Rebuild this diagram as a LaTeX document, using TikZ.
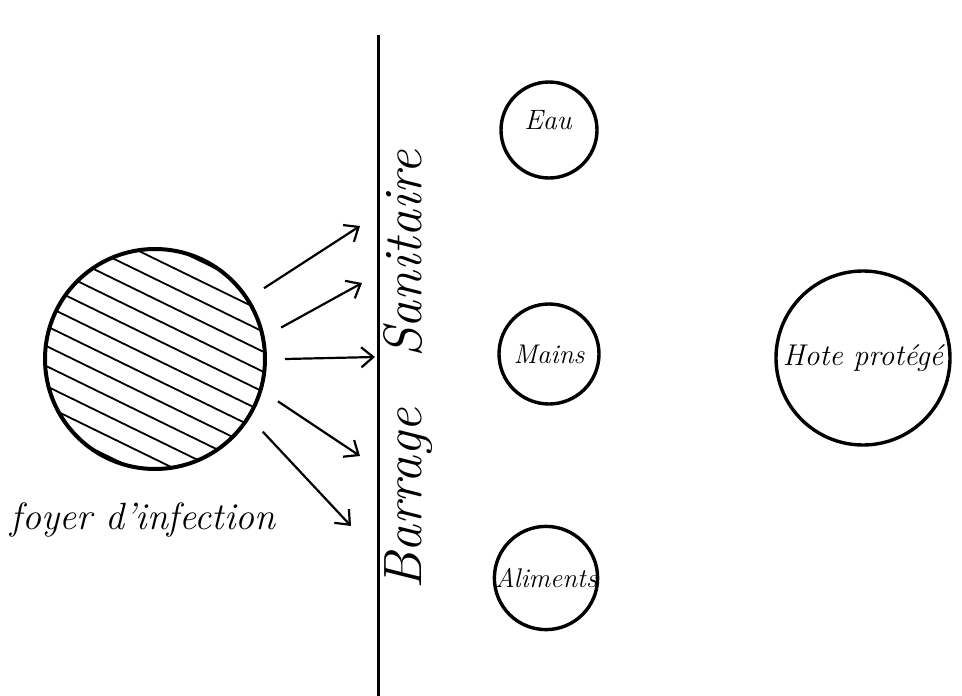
\documentclass[tikz,border=0pt]{standalone}
\usepackage{fontspec}
\usepackage{tikz}
\usetikzlibrary{arrows.meta, calc}

\begin{document}
\begin{tikzpicture}[x=1pt, y=-1pt,
  rond/.style={circle, draw, line width=3.4pt, inner sep=0pt, font=\fontsize{27}{32}\selectfont\itshape},
  fleche/.style={line width=2.2pt, -{Straight Barb[length=12pt, width=20pt]}}]
  \useasboundingbox (0,0) rectangle (962,696);

  \coordinate (F) at (155, 359);
  \coordinate (H) at (378, 35);
  \coordinate (B) at (378, 696);
  \coordinate (T1) at (360, 226);
  \coordinate (T2) at (362, 283);
  \coordinate (T3) at (375, 357);
  \coordinate (T4) at (360, 456);
  \coordinate (T5) at (351, 526);

  \begin{scope}
    \clip (F) circle (110);
    \foreach \y in {-108,-90,...,108} {
      \draw[line width=1.8pt, shift={(F)}, rotate=-26] (-130,\y) -- (130,\y);
    }
  \end{scope}
  \node[circle, draw, line width=4pt, minimum size=220pt, outer sep=20pt] (foyer) at (F) {};
  \node[font=\fontsize{38}{44}\selectfont\itshape] (nomfoyer) at (143, 520) {foyer d'infection};

  \draw[fleche] (foyer.33) -- (T1);
  \draw[fleche] (foyer.14) -- (T2);
  \draw[fleche] (foyer.0) -- (T3);
  \draw[fleche] (foyer.-19) -- (T4);
  \draw[fleche] (foyer.-34) -- (T5);

  \draw[line width=3pt] (H) -- (B);
  \node[rotate=90, font=\fontsize{54}{60}\selectfont\itshape] (barrage) at (408, 370) {Barrage\hspace{50pt}Sanitaire};

  \node[rond, minimum size=96pt] (eau) at (549, 130) {};
  \node[font=\fontsize{28}{32}\selectfont\itshape] at (548, 120) {Eau};
  \node[rond, minimum size=100pt] (mains) at (549, 354) {Mains};
  \node[rond, minimum size=102pt] (aliments) at (546, 578) {Aliments};
  \node[rond, minimum size=174pt, font=\fontsize{30}{34}\selectfont\itshape] (hote) at (863, 358) {Hote protégé};
\end{tikzpicture}
\end{document}
